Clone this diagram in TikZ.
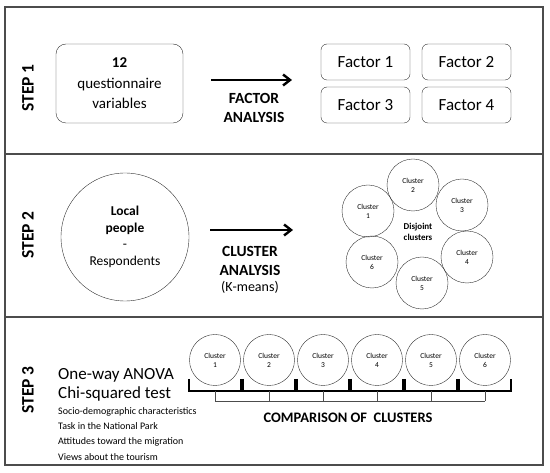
\documentclass[tikz,border=0pt]{standalone}
\usepackage{fontspec}
\setmainfont{Carlito}
\usetikzlibrary{arrows.meta,positioning}

\begin{document}
\begin{tikzpicture}[
  x=1pt, y=-1pt,
  frame/.style={draw=black!70,line width=1.2pt},
  steplbl/.style={rotate=90,font=\fontsize{17.5}{19}\selectfont\bfseries},
  varbox/.style={draw=black!80,rounded corners=10pt,
    minimum width=127pt,minimum height=79pt,align=center,
    font=\fontsize{15}{20.5}\selectfont},
  facbox/.style={draw=black!80,rounded corners=6pt,
    minimum width=89pt,minimum height=36pt,
    font=\fontsize{17}{19}\selectfont},
  method/.style={align=center,font=\fontsize{15.5}{18.5}\selectfont\bfseries},
  people/.style={circle,draw=black!80,minimum size=128pt,align=center,
    font=\fontsize{13.5}{16.5}\selectfont},
  clu/.style={circle,draw=black!80,minimum size=52pt,inner sep=0pt,
    align=center,font=\fontsize{7.5}{9}\selectfont},
  bigarrow/.style={line width=2.4pt,-{Straight Barb[length=7pt,width=11pt]}},
  bracket/.style={line width=2.3pt},
  link/.style={draw=black!70,line width=0.7pt},
  bigtxt/.style={anchor=base west,inner sep=0pt,font=\fontsize{17}{19}\selectfont},
  topic/.style={anchor=base west,inner sep=0pt,font=\fontsize{10}{12}\selectfont}]
\useasboundingbox (0,0) rectangle (550,473);

% frame of the three steps
\draw[frame] (5,7) rectangle (543,465);
\draw[frame] (5,154) -- (543,154);
\draw[frame] (5,317) -- (543,317);

% STEP 1
\node[steplbl] (step1) at (28,88) {STEP 1};
\node[varbox] (vars) at (119.5,83.5) {\textbf{12}\\questionnaire\\variables};
\coordinate (fa-s) at (211,80);
\coordinate (fa-e) at (292,80);
\draw[bigarrow] (fa-s) -- (fa-e);
\node[method] (fa) at (254,108) {FACTOR\\ANALYSIS};
\node[facbox] (f1) at (365.5,62) {Factor 1};
\node[facbox] (f2) at (466.5,62) {Factor 2};
\node[facbox] (f3) at (365.5,105) {Factor 3};
\node[facbox] (f4) at (466.5,105) {Factor 4};

% STEP 2
\node[steplbl] (step2) at (28,235) {STEP 2};
\node[people] (resp) at (125,237) {\textbf{Local}\\\textbf{people}\\-\\Respondents};
\coordinate (ca-s) at (210,230);
\coordinate (ca-e) at (293,230);
\draw[bigarrow] (ca-s) -- (ca-e);
\node[method] (ca) at (250,270) {CLUSTER\\ANALYSIS\\[-2pt]{\mdseries\fontsize{14}{16}\selectfont(K-means)}};
\node[clu] (clu1) at (368,211) {Cluster\\1};
\node[clu] (clu2) at (413,185) {Cluster\\2};
\node[clu] (clu3) at (462,205) {Cluster\\3};
\node[clu] (clu4) at (467,257) {Cluster\\4};
\node[clu] (clu5) at (422,283) {Cluster\\5};
\node[clu] (clu6) at (372,262) {Cluster\\6};
\node[align=center,font=\fontsize{9}{11}\selectfont\bfseries] (disj) at (418,232) {Disjoint\\clusters};

% STEP 3
\node[steplbl] (step3) at (28,390) {STEP 3};
\node[bigtxt] (anova) at (58,380) {One-way ANOVA};
\node[bigtxt] (chisq) at (58,399) {Chi-squared test};
\foreach \t [count=\i] in {Socio-demographic characteristics,
    Task in the National Park, Attitudes toward the migration,
    Views about the tourism}
  \node[topic] (topic\i) at (58,{399+15.3*\i}) {\t};
\foreach \i in {1,...,6} {
  \node[clu,minimum size=51pt] (cmp\i) at ({215+54*(\i-1)},360) {Cluster\\\i};
  \draw[bracket] ([yshift=-19pt]cmp\i.west) |- ([yshift=-31pt]cmp\i.center)
    -| ([yshift=-19pt]cmp\i.east);
  \draw[link] ([yshift=-31pt]cmp\i.center) -- ([yshift=-41pt]cmp\i.center);
}
\draw[link] ([yshift=-41pt]cmp1.center) -- ([yshift=-41pt]cmp6.center);
\node[font=\fontsize{14.5}{17}\selectfont\bfseries] (cmp) at (348,418) {COMPARISON OF~~CLUSTERS};
\end{tikzpicture}
\end{document}
